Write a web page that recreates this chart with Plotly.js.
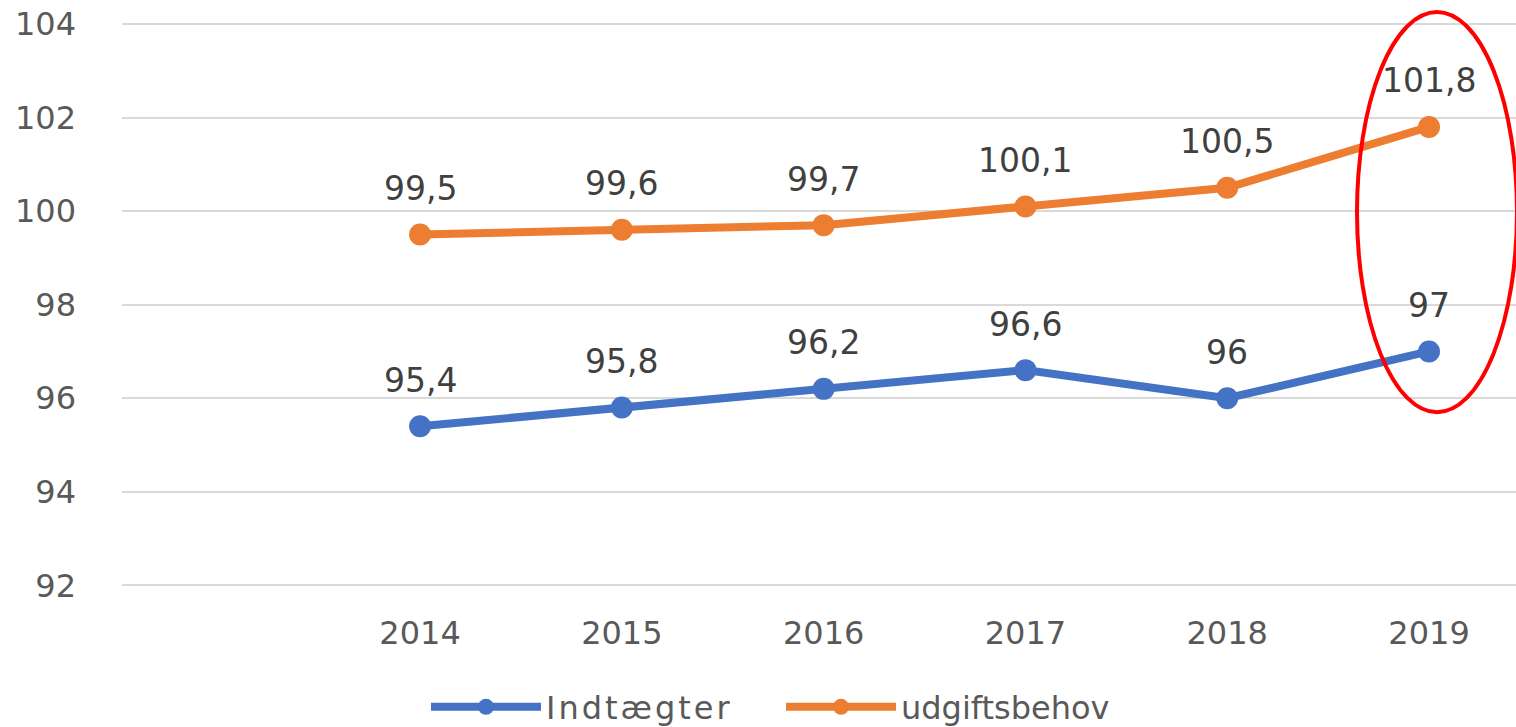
<!DOCTYPE html>
<html><head><meta charset="utf-8">
<script src="https://cdn.plot.ly/plotly-3.0.1.min.js"></script>
<style>
html,body{margin:0;padding:0;background:#fff;}
#chart{width:1516px;height:727px;}
svg text.legendtext{letter-spacing:3px !important;}
</style></head><body>
<div id="chart"></div>
<script>
const years = [2014, 2015, 2016, 2017, 2018, 2019];
const indtaegter = [95.4, 95.8, 96.2, 96.6, 96, 97];
const udgiftsbehov = [99.5, 99.6, 99.7, 100.1, 100.5, 101.8];
const seriesNames = ['Indtægter', 'udgiftsbehov'];
const yTicks = [92, 94, 96, 98, 100, 102, 104];

const fontFam = 'DejaVu Sans, sans-serif';
const blue = '#4472c4', orange = '#ed7d31';

function trace(name, y, color, legend){
  return {x: years, y: y, name: name, type: 'scatter', mode: 'lines+markers', legend: legend,
    line: {color: color, width: 8}, marker: {color: color, size: 22}, cliponaxis: false};
}
const fmt = v => String(v).replace('.', ',');
const annotations = [];
[indtaegter, udgiftsbehov].forEach(arr => arr.forEach((v, i) => annotations.push({
  x: years[i], y: v, xref: 'x', yref: 'y', text: fmt(v), showarrow: false,
  yshift: 46, font: {family: fontFam, size: 33, color: '#404040'}
})));

const legendBase = {orientation: 'h', xref: 'container', yref: 'container', xanchor: 'left',
  y: 1 - 707 / 727, yanchor: 'middle',
  font: {family: fontFam, size: 32, color: '#595959'}, itemwidth: 110, bgcolor: 'rgba(0,0,0,0)'};

const layout = {
  width: 1516, height: 727,
  margin: {l: 122, r: 0, t: 0, b: 137, autoexpand: false},
  paper_bgcolor: '#fff', plot_bgcolor: '#fff',
  showlegend: true,
  legend: Object.assign({}, legendBase, {x: 426 / 1516}),
  legend2: Object.assign({}, legendBase, {x: 781 / 1516}),
  xaxis: {range: [2012.523, 2019.431], tickvals: years, ticktext: years.map(String),
    showgrid: false, zeroline: false, showline: false, ticks: '', ticklabelstandoff: 21,
    tickfont: {family: fontFam, size: 32, color: '#595959'}},
  yaxis: {range: [91.9, 104.513], tickvals: yTicks, ticktext: yTicks.map(String),
    showgrid: true, gridcolor: '#d9d9d9', gridwidth: 2, zeroline: false, showline: false,
    ticks: '', ticklabelstandoff: 45,
    tickfont: {family: fontFam, size: 32, color: '#595959'}},
  annotations: annotations,
  shapes: [{type: 'circle', xref: 'x', yref: 'y', x0: 2018.643, x1: 2019.436, y0: 95.70, y1: 104.257,
    line: {color: '#ff0000', width: 4}, layer: 'above'}]
};
Plotly.newPlot('chart', [trace(seriesNames[0], indtaegter, blue, 'legend'), trace(seriesNames[1], udgiftsbehov, orange, 'legend2')], layout, {displayModeBar: false, staticPlot: true});
</script></body></html>
